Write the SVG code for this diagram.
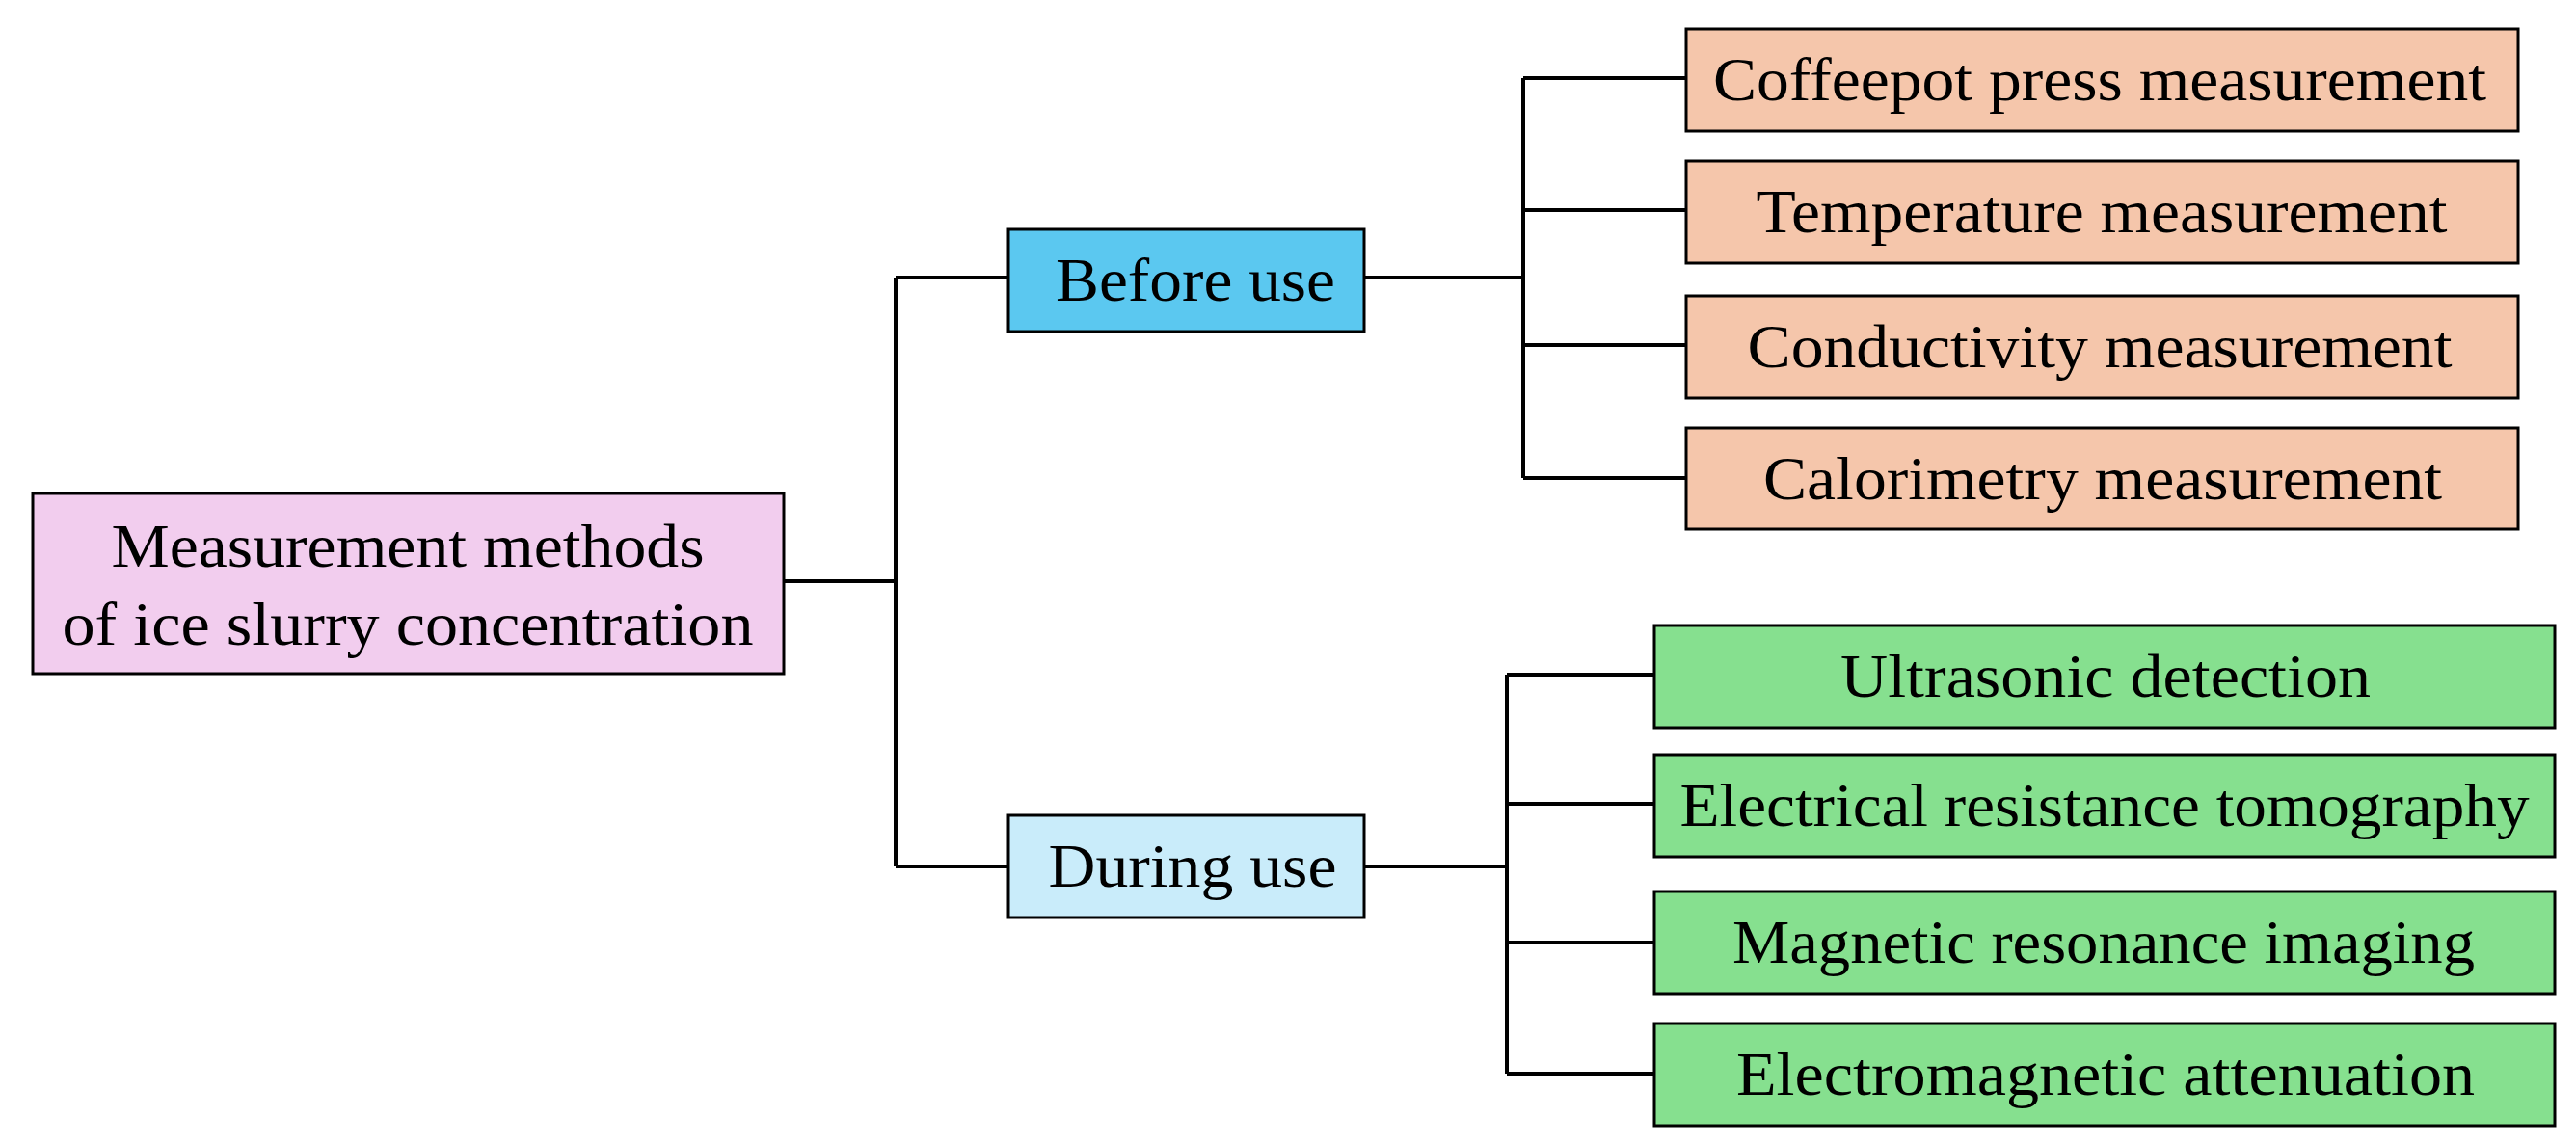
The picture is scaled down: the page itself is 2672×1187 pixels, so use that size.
<svg xmlns="http://www.w3.org/2000/svg" width="2672" height="1187" viewBox="0 0 2672 1187">
<style>
.b{stroke:#000;stroke-width:3}
.t{font-family:"Liberation Serif",serif;font-size:64px;fill:#000;text-anchor:middle}
.c{fill:none;stroke:#000;stroke-width:4}
</style>
<rect width="2672" height="1187" fill="#fff"/>
<g id="connectors" class="c">
<path d="M813 603H929M929 288V899M929 288H1046M929 899H1046"/>
<path d="M1415 288H1580M1580 81V496M1580 81H1749M1580 218H1749M1580 358H1749M1580 496H1749"/>
<path d="M1415 899H1563M1563 700V1114M1563 700H1716M1563 834H1716M1563 978H1716M1563 1114H1716"/>
</g>
<g id="root"><rect class="b" x="34" y="512" width="779" height="187" fill="#F2CDEE"/>
<text class="t" x="423" y="588" textLength="615" lengthAdjust="spacingAndGlyphs">Measurement methods</text>
<text class="t" x="423" y="669" textLength="717" lengthAdjust="spacingAndGlyphs">of ice slurry concentration</text></g>
<g id="before"><rect class="b" x="1046" y="238" width="369" height="106" fill="#5BC8F0"/>
<text class="t" x="1240" y="312" textLength="290" lengthAdjust="spacingAndGlyphs">Before use</text></g>
<g id="during"><rect class="b" x="1046" y="846" width="369" height="106" fill="#C9ECFA"/>
<text class="t" x="1237" y="920" textLength="299" lengthAdjust="spacingAndGlyphs">During use</text></g>
<g id="n1"><rect class="b" x="1749" y="30" width="863" height="106" fill="#F5C6AB"/>
<text class="t" x="2178" y="104" textLength="802" lengthAdjust="spacingAndGlyphs">Coffeepot press measurement</text></g>
<g id="n2"><rect class="b" x="1749" y="167" width="863" height="106" fill="#F5C6AB"/>
<text class="t" x="2180" y="241" textLength="717" lengthAdjust="spacingAndGlyphs">Temperature measurement</text></g>
<g id="n3"><rect class="b" x="1749" y="307" width="863" height="106" fill="#F5C6AB"/>
<text class="t" x="2178" y="381" textLength="731" lengthAdjust="spacingAndGlyphs">Conductivity measurement</text></g>
<g id="n4"><rect class="b" x="1749" y="444" width="863" height="105" fill="#F5C6AB"/>
<text class="t" x="2181" y="518" textLength="704" lengthAdjust="spacingAndGlyphs">Calorimetry measurement</text></g>
<g id="g1"><rect class="b" x="1716" y="649" width="934" height="106" fill="#86E08F"/>
<text class="t" x="2184" y="723" textLength="550" lengthAdjust="spacingAndGlyphs">Ultrasonic detection</text></g>
<g id="g2"><rect class="b" x="1716" y="783" width="934" height="106" fill="#86E08F"/>
<text class="t" x="2183" y="857" textLength="881" lengthAdjust="spacingAndGlyphs">Electrical resistance tomography</text></g>
<g id="g3"><rect class="b" x="1716" y="925" width="934" height="106" fill="#86E08F"/>
<text class="t" x="2182" y="999" textLength="770" lengthAdjust="spacingAndGlyphs">Magnetic resonance imaging</text></g>
<g id="g4"><rect class="b" x="1716" y="1062" width="934" height="106" fill="#86E08F"/>
<text class="t" x="2184" y="1136" textLength="766" lengthAdjust="spacingAndGlyphs">Electromagnetic attenuation</text></g>
</svg>
